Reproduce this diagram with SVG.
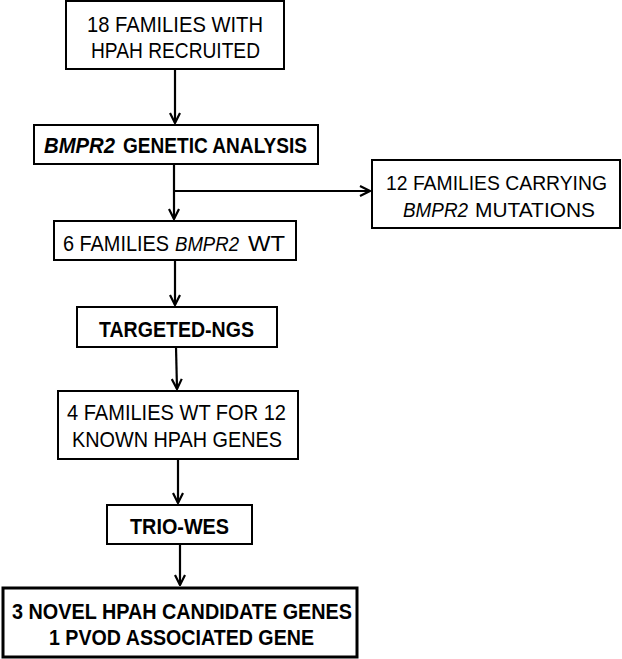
<svg xmlns="http://www.w3.org/2000/svg" width="622" height="659" viewBox="0 0 622 659">
<style>
.box{fill:#fff;stroke:#000;stroke-width:2}
.thick{stroke-width:3}
text{font-family:"Liberation Sans",Arial,sans-serif;font-size:22px;fill:#000}
.s{font-size:20.5px}
.b{font-weight:bold}
.i{font-style:italic}
.con{fill:none;stroke:#000;stroke-width:2.2}
</style>
<defs>
<marker id="ah" viewBox="0 0 12 12" refX="11" refY="6" markerWidth="12" markerHeight="12" markerUnits="userSpaceOnUse" orient="auto">
<path d="M1,1 L11,6 L1,11" fill="none" stroke="#000" stroke-width="2.2"/>
</marker>
</defs>
<rect width="622" height="659" fill="#fff"/>
<g id="connectors">
<line class="con" x1="175" y1="70" x2="175" y2="123" marker-end="url(#ah)"/>
<line class="con" x1="174" y1="164" x2="174" y2="219" marker-end="url(#ah)"/>
<line class="con" x1="174" y1="191" x2="370" y2="191" marker-end="url(#ah)"/>
<line class="con" x1="175" y1="260" x2="175" y2="305" marker-end="url(#ah)"/>
<line class="con" x1="176" y1="347" x2="177" y2="389" marker-end="url(#ah)"/>
<line class="con" x1="178" y1="459" x2="178" y2="503" marker-end="url(#ah)"/>
<line class="con" x1="180" y1="544" x2="180" y2="585" marker-end="url(#ah)"/>
</g>
<g id="n1">
<rect class="box" x="66" y="1" width="218" height="68"/>
<text x="87" y="32" textLength="176" lengthAdjust="spacingAndGlyphs">18 FAMILIES WITH</text>
<text x="91" y="58" textLength="169" lengthAdjust="spacingAndGlyphs">HPAH RECRUITED</text>
</g>
<g id="n2">
<rect class="box" x="34" y="125" width="284" height="39"/>
<text class="b i" x="44" y="153" textLength="71" lengthAdjust="spacingAndGlyphs">BMPR2</text>
<text class="b" x="123" y="153" textLength="184" lengthAdjust="spacingAndGlyphs">GENETIC ANALYSIS</text>
</g>
<g id="n3">
<rect class="box" x="372" y="160" width="248" height="68"/>
<text class="s" x="386" y="190" textLength="221" lengthAdjust="spacingAndGlyphs">12 FAMILIES CARRYING</text>
<text class="s i" x="403" y="217" textLength="65" lengthAdjust="spacingAndGlyphs">BMPR2</text>
<text class="s" x="475" y="217" textLength="120" lengthAdjust="spacingAndGlyphs">MUTATIONS</text>
</g>
<g id="n4">
<rect class="box" x="54" y="221" width="242" height="39"/>
<text x="63" y="251" textLength="106" lengthAdjust="spacingAndGlyphs">6 FAMILIES</text>
<text class="s i" x="175" y="251" textLength="64" lengthAdjust="spacingAndGlyphs">BMPR2</text>
<text x="248" y="251" textLength="37" lengthAdjust="spacingAndGlyphs">WT</text>
</g>
<g id="n5">
<rect class="box" x="77" y="307" width="200" height="40"/>
<text class="b" x="99" y="337" textLength="155" lengthAdjust="spacingAndGlyphs">TARGETED-NGS</text>
</g>
<g id="n6">
<rect class="box" x="58" y="391" width="240" height="68"/>
<text x="67" y="420" textLength="219" lengthAdjust="spacingAndGlyphs">4 FAMILIES WT FOR 12</text>
<text x="72" y="447" textLength="210" lengthAdjust="spacingAndGlyphs">KNOWN HPAH GENES</text>
</g>
<g id="n7">
<rect class="box" x="107" y="505" width="145" height="39"/>
<text class="b" x="130" y="534" textLength="99" lengthAdjust="spacingAndGlyphs">TRIO-WES</text>
</g>
<g id="n8">
<rect class="box thick" x="3" y="588" width="354" height="69"/>
<text class="b" x="12" y="619" textLength="340" lengthAdjust="spacingAndGlyphs">3 NOVEL HPAH CANDIDATE GENES</text>
<text class="b" x="49" y="645" textLength="265" lengthAdjust="spacingAndGlyphs">1 PVOD ASSOCIATED GENE</text>
</g>
</svg>
